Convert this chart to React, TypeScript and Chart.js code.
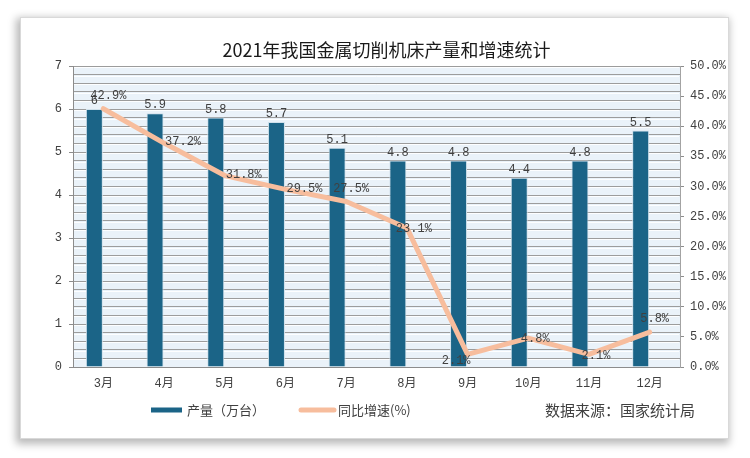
import React, { useEffect, useRef } from "react";
import { Chart, registerables } from "chart.js";

Chart.register(...registerables);

const title = "2021年我国金属切削机床产量和增速统计";
const categories = ["3月", "4月", "5月", "6月", "7月", "8月", "9月", "10月", "11月", "12月"];
const outputValues = [6, 5.9, 5.8, 5.7, 5.1, 4.8, 4.8, 4.4, 4.8, 5.5];
const growthValues = [42.9, 37.2, 31.8, 29.5, 27.5, 23.1, 2.1, 4.8, 2.1, 5.8];
const leftTicks = [0, 7, 1];
const rightTicks = [0, 50, 5];
const outputLabel = "产量（万台）";
const growthLabel = "同比增速(%)";
const sourceText = "数据来源：国家统计局";
const growthLabelPlacement = ["above", "right", "right", "right", "above", "center", "left", "center", "center", "above"];

const BAR = "#1b6487";
const LINE = "#f7bd9d";
const MONO = "'Liberation Mono', 'Noto Sans CJK SC', monospace";
const CJK = "'Noto Sans CJK SC', sans-serif";

const W = 707;
const H = 420;

const decorPlugin = {
  id: "decor",
  beforeDraw(chart: any) {
    const { ctx, chartArea: a } = chart;
    ctx.save();
    ctx.fillStyle = "#eaf2f9";
    ctx.fillRect(a.left, a.top, a.right - a.left, a.bottom - a.top);
    ctx.restore();
  },
  beforeDatasetsDraw(chart: any) {
    const { ctx, chartArea: a } = chart;
    const y = chart.scales.y;
    ctx.save();
    ctx.strokeStyle = "rgba(255,255,255,0.9)";
    ctx.lineWidth = 1;
    y.ticks.forEach((t: any) => {
      const py = Math.round(y.getPixelForValue(t.value)) + 1.5;
      if (py < a.bottom - 1) {
        ctx.beginPath();
        ctx.moveTo(a.left + 1, py);
        ctx.lineTo(a.right - 1, py);
        ctx.stroke();
      }
    });
    ctx.restore();
  },
  afterDraw(chart: any) {
    const { ctx, chartArea: a } = chart;
    ctx.save();
    // title
    ctx.fillStyle = "#1a1a1a";
    ctx.font = `18px ${CJK}`;
    ctx.textAlign = "center";
    ctx.textBaseline = "middle";
    ctx.fillText(title, (a.left + a.right) / 2 + 10, 32);

    // bar labels
    ctx.fillStyle = "#404040";
    ctx.font = `12px ${MONO}`;
    const barMeta = chart.getDatasetMeta(0);
    barMeta.data.forEach((el: any, i: number) => {
      ctx.textAlign = "center";
      ctx.textBaseline = "middle";
      ctx.fillText(String(outputValues[i]), el.x, el.y - 8);
    });

    // line labels
    const lineMeta = chart.getDatasetMeta(2);
    lineMeta.data.forEach((el: any, i: number) => {
      const txt = growthValues[i].toFixed(1) + "%";
      const mode = growthLabelPlacement[i];
      ctx.textBaseline = "middle";
      if (mode === "above") {
        ctx.textAlign = "center";
        ctx.fillText(txt, el.x + 5, el.y - 13);
      } else if (mode === "right") {
        ctx.textAlign = "left";
        ctx.fillText(txt, el.x + 1, el.y - 1);
      } else if (mode === "left") {
        ctx.textAlign = "right";
        ctx.fillText(txt, el.x + 3, el.y + 6);
      } else {
        ctx.textAlign = "center";
        ctx.fillText(txt, el.x + 7, el.y + 1);
      }
    });

    // legend
    const ly = 392;
    ctx.fillStyle = BAR;
    ctx.fillRect(130, ly - 2.5, 31, 5);
    ctx.fillStyle = "#404040";
    ctx.font = `13px ${CJK}`;
    ctx.textAlign = "left";
    ctx.textBaseline = "middle";
    ctx.fillText(outputLabel, 166, ly);

    ctx.strokeStyle = LINE;
    ctx.lineWidth = 5;
    ctx.lineCap = "round";
    ctx.beginPath();
    ctx.moveTo(280, ly);
    ctx.lineTo(313, ly);
    ctx.stroke();
    ctx.font = `13px ${CJK}`;
    ctx.fillText(growthLabel, 317, ly);

    ctx.font = `15px ${CJK}`;
    ctx.fillText(sourceText, 524, ly);
    ctx.restore();
  },
};

export default function App() {
  const ref = useRef<HTMLCanvasElement | null>(null);

  useEffect(() => {
    if (!ref.current) return;
    const chart = new Chart(ref.current, {
      type: "bar",
      data: {
        labels: categories,
        datasets: [
          {
            type: "bar",
            label: outputLabel,
            data: outputValues,
            yAxisID: "y",
            backgroundColor: BAR,
            borderColor: "#cfe0eb",
            borderWidth: 1,
            categoryPercentage: 0.593,
            barPercentage: 0.944,
            order: 2,
          },
          {
            type: "bar",
            label: "",
            data: categories.map(() => null),
            yAxisID: "y",
            backgroundColor: "transparent",
            categoryPercentage: 0.593,
            barPercentage: 0.944,
            order: 3,
          },
          {
            type: "line",
            label: growthLabel,
            data: growthValues,
            yAxisID: "y1",
            borderColor: LINE,
            borderWidth: 5,
            borderJoinStyle: "round",
            borderCapStyle: "round",
            pointRadius: 0,
            tension: 0,
            order: 1,
          },
        ] as any,
      },
      options: {
        responsive: false,
        animation: false,
        layout: { padding: { top: 48, left: 0, right: 0, bottom: 0 } },
        plugins: {
          legend: { display: false },
          title: { display: false },
          tooltip: { enabled: false },
        },
        scales: {
          x: {
            grid: { display: true, drawOnChartArea: false, drawTicks: false },
            border: { display: true, color: "#8c8c8c", width: 1 },
            ticks: {
              color: "#404040",
              font: { family: MONO, size: 12 },
              padding: 10,
              maxRotation: 0,
            },
            afterFit(scale: any) {
              scale.height = 71;
            },
          },
          y: {
            position: "left",
            min: leftTicks[0],
            max: leftTicks[1],
            ticks: {
              stepSize: leftTicks[2] / 5,
              color: "#404040",
              font: { family: MONO, size: 12 },
              padding: 7,
              autoSkip: false,
              callback: (v: any) => {
                const n = Number(v);
                return Math.abs(n - Math.round(n)) < 1e-6 ? String(Math.round(n)) : "";
              },
            },
            grid: {
              color: "#9c9c9c",
              lineWidth: 1,
              tickLength: 4,
              tickColor: (c: any) => {
                const n = c.tick ? c.tick.value : 0.5;
                return Math.abs(n - Math.round(n)) < 1e-6 ? "#8c8c8c" : "rgba(0,0,0,0)";
              },
            },
            border: { display: true, color: "#8c8c8c", width: 1 },
            afterFit(scale: any) {
              scale.width = 52;
            },
          },
          y1: {
            position: "right",
            min: rightTicks[0],
            max: rightTicks[1],
            ticks: {
              stepSize: rightTicks[2],
              color: "#404040",
              font: { family: MONO, size: 12 },
              padding: 6,
              callback: (v: any) => Number(v).toFixed(1) + "%",
            },
            grid: { drawOnChartArea: false, tickLength: 4, tickColor: "#8c8c8c" },
            border: { display: true, color: "#a3a3a3", width: 1 },
            afterFit(scale: any) {
              scale.width = 48;
            },
          },
        },
      } as any,
      plugins: [decorPlugin],
    });
    return () => chart.destroy();
  }, []);

  return (
    <div style={{ position: "absolute", left: 0, top: 0, width: 750, height: 458, background: "#ffffff" }}>
      <div
        style={{
          position: "absolute",
          left: 20,
          top: 17,
          width: W,
          height: H,
          background: "#ffffff",
          border: "1px solid #d9d9d9",
          boxShadow: "-2px 3px 8px 2px rgba(0,0,0,0.28)",
        }}
      >
        <canvas ref={ref} width={W} height={H} style={{ display: "block", width: W, height: H }} />
      </div>
    </div>
  );
}
